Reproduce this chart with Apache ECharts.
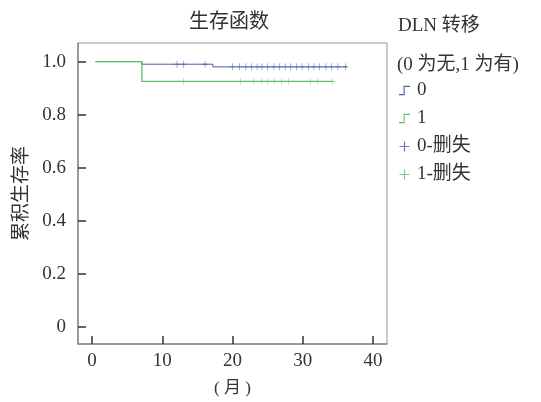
<!DOCTYPE html>
<html lang="zh">
<head>
<meta charset="utf-8">
<script src="https://cdn.jsdelivr.net/npm/echarts@6.0.0/dist/echarts.min.js"></script>
<style>
  html, body { margin: 0; padding: 0; background: #fff; }
  #main { width: 541px; height: 402px; }
</style>
</head>
<body>
<div id="main"></div>
<script>
// KM 曲线 (月, 累积生存率)
var time0 = [0.5, 7.1, 17.2, 36.3];
var surv0 = [1.0, 0.99, 0.98, 0.98];
var time1 = [0.5, 7.1, 34.3];
var surv1 = [1.0, 0.925, 0.925];

// 删失点
var cens0Time = [12.1, 13.0, 16.1, 20.0, 21.0, 21.9, 22.7, 23.5, 24.2, 25.0, 25.9, 26.7, 27.5,
                 28.3, 29.1, 29.9, 30.8, 31.6, 32.4, 33.3, 34.1, 35.0, 36.1];
var cens0Surv = [0.99, 0.99, 0.99, 0.98, 0.98, 0.98, 0.98, 0.98, 0.98, 0.98, 0.98, 0.98, 0.98,
                 0.98, 0.98, 0.98, 0.98, 0.98, 0.98, 0.98, 0.98, 0.98, 0.98];
var cens1Time = [13.0, 21.1, 23.0, 24.1, 25.0, 26.0, 27.0, 28.0, 31.1, 32.1, 34.2];
var cens1Surv = [0.925, 0.925, 0.925, 0.925, 0.925, 0.925, 0.925, 0.925, 0.925, 0.925, 0.925];

var legendNames = ['0', '1', '0-删失', '1-删失'];

var blue = '#4a5ca8';
var green = '#5cbf6e';
var font = '"Liberation Serif", "Noto Sans CJK SC", serif';

function pairs(xs, ys) {
    var out = [];
    for (var i = 0; i < xs.length; i++) out.push([xs[i], ys[i]]);
    return out;
}

// 外框: x -2..42, y -0.065..1.07 ; 内层网格只覆盖 0..40 / 0..1, 用来画刻度
var box = { left: 78, top: 43, width: 309, height: 301 };
var pxX = box.width / 44, pxY = box.height / 1.135;
var inner = {
    left: box.left + 2 * pxX,
    width: 40 * pxX,
    top: box.top + 0.07 * pxY,
    height: 1 * pxY
};

var stepIcon = 'path://M0,9 L5,9 L5,0 L12,0 L12,1.2 L6.2,1.2 L6.2,10.2 L0,10.2 Z';
var plusIcon = 'path://M4.4,0 L5.6,0 L5.6,4.4 L10,4.4 L10,5.6 L5.6,5.6 L5.6,10 L4.4,10 L4.4,5.6 L0,5.6 L0,4.4 L4.4,4.4 Z';

// 隐形分隔线 (保持 show, 只是透明)
var hiddenSplit = { show: true, lineStyle: { color: '#fff', opacity: 0 } };

var chart = echarts.init(document.getElementById('main'));
chart.setOption({
    backgroundColor: '#fff',
    animation: false,
    textStyle: { fontFamily: font, color: '#333' },
    title: [
        { text: '生存函数', left: 184, top: 8,
          textStyle: { fontFamily: font, fontSize: 20, fontWeight: 'normal', color: '#333' } },
        { text: 'DLN 转移', left: 393, top: 12,
          textStyle: { fontFamily: font, fontSize: 19, fontWeight: 'normal', color: '#333' } },
        { text: '(0 为无,1 为有)', left: 392, top: 51,
          textStyle: { fontFamily: font, fontSize: 19, fontWeight: 'normal', color: '#333' } }
    ],
    legend: {
        orient: 'vertical',
        left: 394,
        top: 76,
        itemWidth: 11,
        itemHeight: 10,
        itemGap: 9,
        data: [
            { name: legendNames[0], icon: stepIcon },
            { name: legendNames[1], icon: stepIcon },
            { name: legendNames[2], icon: plusIcon },
            { name: legendNames[3], icon: plusIcon }
        ],
        textStyle: { fontFamily: font, fontSize: 19, color: '#333', padding: [0, 0, 0, 2] }
    },
    grid: [
        { left: box.left, top: box.top, width: box.width, height: box.height,
          outerBoundsMode: 'none', show: true, borderColor: '#9a9a9a', borderWidth: 1 },
        { left: inner.left, top: inner.top, width: inner.width, height: inner.height,
          outerBoundsMode: 'none', show: false }
    ],
    xAxis: [
        {
            gridIndex: 0, type: 'value', min: -2, max: 42,
            name: '( 月 )', nameLocation: 'middle', nameGap: 36,
            nameTextStyle: { fontFamily: font, fontSize: 17, color: '#333' },
            axisLine: { show: true, onZero: false, lineStyle: { color: '#8a8a8a', width: 1.5 } },
            axisTick: { show: false }, axisLabel: { show: false }, splitLine: { show: false }
        },
        {
            gridIndex: 1, type: 'value', min: 0, max: 40, interval: 10,
            position: 'bottom', offset: (box.top + box.height) - (inner.top + inner.height),
            axisLine: { show: false, onZero: false },
            axisTick: { show: true, inside: true, length: 8, lineStyle: { color: '#333', width: 1.5 } },
            axisLabel: { fontFamily: font, fontSize: 19, color: '#333', margin: 8 },
            splitLine: hiddenSplit
        }
    ],
    yAxis: [
        {
            gridIndex: 0, type: 'value', min: -0.065, max: 1.07,
            name: '累积生存率', nameLocation: 'middle', nameGap: 46, nameRotate: 90,
            nameTextStyle: { fontFamily: font, fontSize: 19, color: '#333' },
            axisLine: { show: true, onZero: false, lineStyle: { color: '#8a8a8a', width: 1.5 } },
            axisTick: { show: false }, axisLabel: { show: false }, splitLine: { show: false }
        },
        {
            gridIndex: 1, type: 'value', min: 0, max: 1, interval: 0.2,
            position: 'left', offset: inner.left - box.left,
            axisLine: { show: false, onZero: false },
            axisTick: { show: true, inside: true, length: 8, lineStyle: { color: '#333', width: 1.5 } },
            axisLabel: {
                fontFamily: font, fontSize: 19, color: '#333', margin: 12,
                formatter: function (v) { return v === 0 ? '0' : v.toFixed(1); }
            },
            splitLine: hiddenSplit
        }
    ],
    series: [
        { name: legendNames[0], type: 'line', step: 'end', data: pairs(time0, surv0),
          xAxisIndex: 1, yAxisIndex: 1, clip: false,
          symbol: 'none', color: blue, lineStyle: { color: blue, width: 1 }, z: 2 },
        { name: legendNames[1], type: 'line', step: 'end', data: pairs(time1, surv1),
          xAxisIndex: 1, yAxisIndex: 1, clip: false,
          symbol: 'none', color: green, lineStyle: { color: green, width: 1.3 }, z: 3 },
        { name: legendNames[2], type: 'scatter', data: pairs(cens0Time, cens0Surv),
          xAxisIndex: 1, yAxisIndex: 1, clip: false,
          symbol: plusIcon, symbolSize: [5, 7], color: blue, itemStyle: { color: blue }, z: 4 },
        { name: legendNames[3], type: 'scatter', data: pairs(cens1Time, cens1Surv),
          xAxisIndex: 1, yAxisIndex: 1, clip: false,
          symbol: plusIcon, symbolSize: [5, 6], color: green, itemStyle: { color: green }, z: 4 }
    ]
});
</script>
</body>
</html>
